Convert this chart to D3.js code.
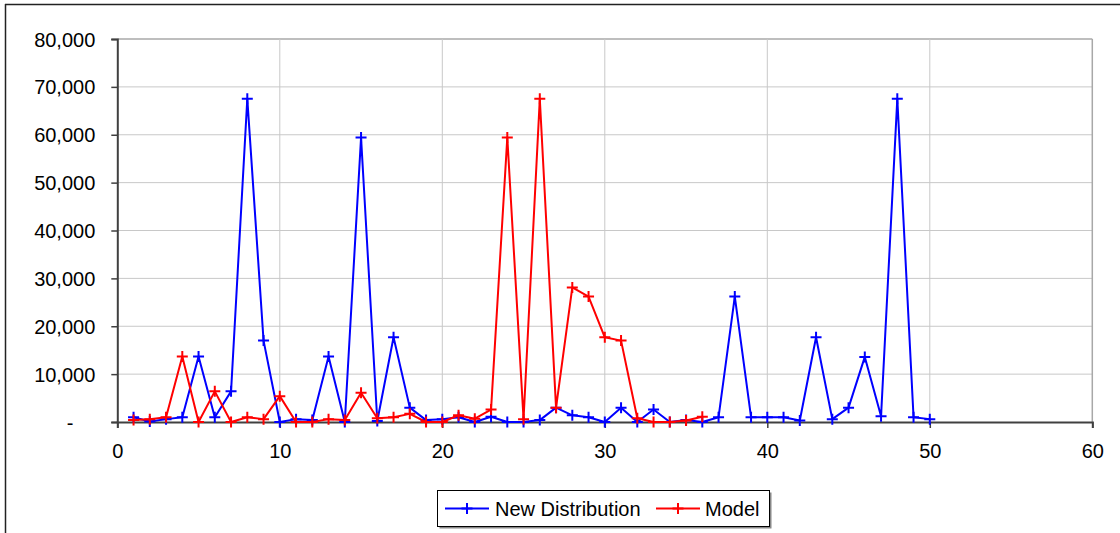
<!DOCTYPE html>
<html>
<head>
<meta charset="utf-8">
<script src="https://cdn.jsdelivr.net/npm/d3@7"></script>
<style>
  html, body { margin: 0; padding: 0; background: #fff; }
  svg { display: block; font-family: "Liberation Sans", Arial, sans-serif; }
</style>
</head>
<body>
<svg id="chart" width="1120" height="533"></svg>
<script>
// ---- data ----
const seriesNames = ["New Distribution", "Model"];
const seriesColors = ["#0000ff", "#ff0000"];
const newDistribution = [
  1000, 100, 600, 1000, 13700, 1000, 6400, 67500, 17000, 0,
  600, 400, 13700, 0, 59400, 200, 17700, 3000, 400, 600,
  1000, 0, 1100, 0, 0, 400, 3000, 1400, 1000, 0,
  3000, 0, 2600, 0, 400, 0, 1000, 26200, 1000, 1000,
  1000, 300, 17700, 600, 3000, 13600, 1200, 67500, 1000, 600
];
const model = [
  400, 600, 1000, 13700, 0, 6400, 0, 1000, 600, 5400,
  0, 0, 600, 400, 6100, 800, 1000, 1700, 0, 0,
  1400, 700, 2600, 59400, 600, 67500, 3000, 28100, 26200, 17700,
  17000, 800, 0, 0, 300, 1100
];
const xTicks = [0, 10, 20, 30, 40, 50, 60];
const yTicks = [0, 10000, 20000, 30000, 40000, 50000, 60000, 70000, 80000];

(function () {
// ---- layout ----
const svg = d3.select("#chart");
const pL = 117.3, pR = 1092.3, pT = 39, pB = 422;
const x = d3.scaleLinear().domain([0, 60]).range([pL, pR]);
const y = d3.scaleLinear().domain([0, 80000]).range([pB, pT]);

// outer chart border (top & left visible)
svg.append("line").attr("x1", 5).attr("x2", 1120).attr("y1", 4.5).attr("y2", 4.5)
  .attr("stroke", "#222").attr("stroke-width", 1.5);
svg.append("line").attr("x1", 5.5).attr("x2", 5.5).attr("y1", 4).attr("y2", 533)
  .attr("stroke", "#222").attr("stroke-width", 1.5);

// gridlines
const grid = svg.append("g");
grid.selectAll("line.h").data(yTicks.filter(d => d > 0)).join("line")
  .attr("x1", pL).attr("x2", pR)
  .attr("y1", d => y(d)).attr("y2", d => y(d))
  .attr("stroke", d => d === 80000 ? "#a8a8a8" : "#c8c8c8")
  .attr("stroke-width", d => d === 80000 ? 1.5 : 1);
grid.selectAll("line.v").data(xTicks.filter(d => d > 0)).join("line")
  .attr("x1", d => x(d)).attr("x2", d => x(d))
  .attr("y1", pT).attr("y2", pB)
  .attr("stroke", d => d === 60 ? "#a8a8a8" : "#c8c8c8")
  .attr("stroke-width", d => d === 60 ? 1.5 : 1);

// axes
const fmt = d => d === 0 ? "-" : d3.format(",")(d);
const yAxis = d3.axisLeft(y).tickValues(yTicks).tickFormat(fmt).tickSize(6).tickPadding(0);
const xAxis = d3.axisBottom(x).tickValues(xTicks).tickFormat(d3.format("d")).tickSize(6).tickPadding(0);

const gy = svg.append("g").attr("transform", `translate(${pL},0)`).call(yAxis);
gy.select(".domain").attr("stroke", "#404040").attr("stroke-width", 2);
gy.selectAll(".tick line").attr("stroke", "#404040").attr("stroke-width", 1.5);
gy.selectAll(".tick text")
  .attr("x", d => d === 0 ? -44 : -22)
  .attr("dy", "0.35em")
  .attr("fill", "#000")
  .style("font-size", "20px")
  .style("font-family", "'Liberation Sans', Arial, sans-serif");

const gx = svg.append("g").attr("transform", `translate(0,${pB})`).call(xAxis);
gx.select(".domain").attr("stroke", "#404040").attr("stroke-width", 2);
gx.selectAll(".tick line").attr("stroke", "#404040").attr("stroke-width", 1.5);
gx.selectAll(".tick text")
  .attr("y", 29)
  .attr("dy", "0.35em")
  .attr("fill", "#000")
  .style("font-size", "20px")
  .style("font-family", "'Liberation Sans', Arial, sans-serif");

// series
const seriesData = [newDistribution, model];
const line = d3.line().x((d, i) => x(i + 1)).y(d => y(d));
const ms = 5.5;
seriesData.forEach((vals, si) => {
  const g = svg.append("g");
  g.append("path").datum(vals).attr("d", line)
    .attr("fill", "none").attr("stroke", seriesColors[si]).attr("stroke-width", 2)
    .attr("stroke-linejoin", "round");
  g.selectAll("path.m").data(vals).join("path")
    .attr("d", (d, i) => {
      const cx = x(i + 1), cy = y(d);
      return `M${cx - ms},${cy}H${cx + ms}M${cx},${cy - ms}V${cy + ms}`;
    })
    .attr("stroke", seriesColors[si]).attr("stroke-width", 2).attr("fill", "none");
});

// legend
const lg = svg.append("g");
lg.append("rect").attr("x", 439.5).attr("y", 492.5).attr("width", 332).attr("height", 36)
  .attr("fill", "#888");
lg.append("rect").attr("x", 437.5).attr("y", 490.5).attr("width", 332).attr("height", 36)
  .attr("fill", "#fff").attr("stroke", "#000").attr("stroke-width", 1);
const legendItems = [
  { x0: 445, x1: 489, tx: 495, name: seriesNames[0], color: seriesColors[0] },
  { x0: 656, x1: 700, tx: 705, name: seriesNames[1], color: seriesColors[1] }
];
legendItems.forEach(it => {
  const cy = 508.5, cx = (it.x0 + it.x1) / 2;
  lg.append("line").attr("x1", it.x0).attr("x2", it.x1).attr("y1", cy).attr("y2", cy)
    .attr("stroke", it.color).attr("stroke-width", 2);
  lg.append("path").attr("d", `M${cx - ms},${cy}H${cx + ms}M${cx},${cy - ms}V${cy + ms}`)
    .attr("stroke", it.color).attr("stroke-width", 2);
  lg.append("text").attr("x", it.tx).attr("y", cy).attr("dy", "0.35em")
    .style("font-size", "20px").attr("fill", "#000").text(it.name);
});
})();
</script>
</body>
</html>
